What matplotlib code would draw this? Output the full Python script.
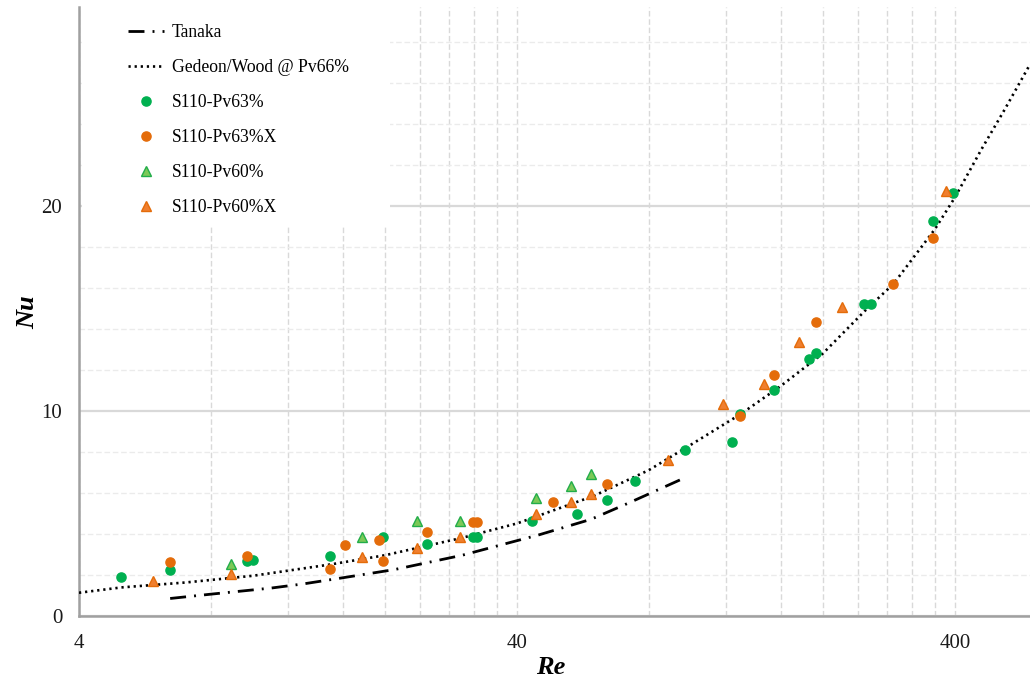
import numpy as np
import matplotlib
matplotlib.use("Agg")
import matplotlib.pyplot as plt
from matplotlib.ticker import NullFormatter
from matplotlib.patches import Rectangle

plt.rcParams['font.family'] = ['Liberation Serif', 'DejaVu Serif']
plt.rcParams['lines.scale_dashes'] = False

# correlation curves
re_tanaka = [6.46, 8, 11, 13, 16, 21, 30, 36, 45, 59, 72, 96]
nu_tanaka = [0.84, 1.05, 1.35, 1.55, 1.85, 2.25, 2.95, 3.4, 3.95, 4.7, 5.5, 6.7]

re_gw = [4, 5, 7, 10, 15, 20, 30, 40, 60, 80, 100, 130, 160, 200, 250, 290, 360, 400, 460, 520, 594]
nu_gw = [1.12, 1.38, 1.62, 1.95, 2.5, 2.95, 3.8, 4.5, 5.85, 7.1, 8.35, 9.85, 11.2, 12.8, 14.9, 16.2, 18.85, 20.4, 22.75, 24.7, 26.9]

# measurements
re_63 = [4.99, 6.46, 9.70, 9.99, 14.96, 19.8, 24.9, 31.7, 32.4, 43.4, 54.8, 64.4, 74.4, 96.8,
         124, 129, 154.6, 185.6, 193.1, 248, 258, 357, 396]
nu_63 = [1.87, 2.23, 2.69, 2.72, 2.93, 3.85, 3.49, 3.83, 3.83, 4.63, 4.95, 5.64, 6.55, 8.07,
         8.47, 9.86, 11.02, 12.53, 12.8, 15.21, 15.21, 19.27, 20.64]

re_63x = [6.46, 9.70, 14.95, 16.2, 19.4, 19.8, 24.9, 31.7, 32.4, 48.4, 64.4, 129, 154.6, 193.1, 289.6, 357]
nu_63x = [2.64, 2.93, 2.30, 3.46, 3.68, 2.66, 4.06, 4.55, 4.55, 5.53, 6.45, 9.72, 11.75, 14.33, 16.2, 18.45]

re_60 = [8.89, 17.7, 23.6, 29.6, 44.3, 53.1, 59.0]
nu_60 = [2.53, 3.83, 4.63, 4.63, 5.74, 6.34, 6.89]

re_60x = [5.91, 8.89, 17.7, 23.6, 29.6, 44.3, 53.1, 59.0, 88.5, 118, 146.9, 176, 221, 382]
nu_60x = [1.71, 2.04, 2.85, 3.31, 3.86, 4.97, 5.56, 5.93, 7.59, 10.32, 11.31, 13.36, 15.08, 20.72]

x_major = [4, 40, 400]
x_minor = [4 * k * 10 ** n for n in range(2) for k in range(2, 10)] + [800]
y_major = [0, 10, 20]
y_minor = list(range(2, 30, 2))

green = '#00b050'
orange = '#e46c0a'

fig = plt.figure(figsize=(10.3, 6.86), dpi=100)
ax = fig.add_axes([79 / 1030, 1 - 615.7 / 686, 951 / 1030, 608.7 / 686])

ax.plot(re_tanaka, nu_tanaka, color='black', lw=2.0, ls=(0, (11.5, 5.8, 1.4, 5.8)),
        label='Tanaka', zorder=3)
ax.plot(re_gw, nu_gw, color='black', lw=1.9, ls=(0, (1.6, 2.8)),
        label='Gedeon/Wood @ Pv66%', zorder=3)
ax.plot(re_63, nu_63, ls='none', marker='o', ms=6.6, color=green, mec=green,
        label='S110-Pv63%', zorder=4)
ax.plot(re_63x, nu_63x, ls='none', marker='o', ms=6.6, color=orange, mec=orange,
        label='S110-Pv63%X', zorder=4)
ax.plot(re_60, nu_60, ls='none', marker='^', ms=7, mfc='#7cc957', mec='#22ad4a', mew=1,
        label='S110-Pv60%', zorder=4)
ax.plot(re_60x, nu_60x, ls='none', marker='^', ms=7, mfc='#f07f2f', mec=orange, mew=1,
        label='S110-Pv60%X', zorder=4)

ax.set_xscale('log')
ax.set_xticks(x_major)
ax.set_xticklabels([str(v) for v in x_major])
ax.set_xticks(x_minor, minor=True)
ax.xaxis.set_minor_formatter(NullFormatter())
ax.set_yticks(y_major)
ax.set_yticks(y_minor, minor=True)
ax.set_xlim(4, 594)
ax.set_ylim(0, 29.7)

ax.set_axisbelow(True)
ax.grid(True, axis='x', which='both', color='#d9d9d9', lw=1.0, ls=(0, (4, 2)))
ax.grid(True, axis='y', which='major', color='#d9d9d9', lw=1.6, ls='-')
ax.grid(True, axis='y', which='minor', color='#ebebeb', lw=1.0, ls=(0, (4, 2)))

ax.tick_params(which='both', length=0, labelsize=15, colors='#1a1a1a')
ax.tick_params(axis='y', pad=12)
ax.tick_params(axis='x', pad=13)
for s in ['top', 'right']:
    ax.spines[s].set_visible(False)
for s in ['left', 'bottom']:
    ax.spines[s].set_color('#a0a0a0')
    ax.spines[s].set_linewidth(1.8)

# white area behind the legend
ax.add_patch(Rectangle((0.003, 0.642), 0.324, 0.358, transform=ax.transAxes,
                       facecolor='white', edgecolor='none', zorder=1))
ax.legend(loc='upper left', bbox_to_anchor=(0.0515, 0.972), frameon=False,
          fontsize=12.7, handlelength=2.05, handletextpad=0.42, labelspacing=1.02,
          borderpad=0, borderaxespad=0, numpoints=1)

fig.text(551 / 1030, 1 - 667 / 686, 'Re', fontsize=19, fontweight='bold', fontstyle='italic',
         ha='center', va='center')
fig.text(28 / 1030, 1 - 312 / 686, 'Nu', fontsize=19, fontweight='bold', fontstyle='italic',
         rotation=90, ha='center', va='center')

fig.savefig('out.png', dpi=100)
